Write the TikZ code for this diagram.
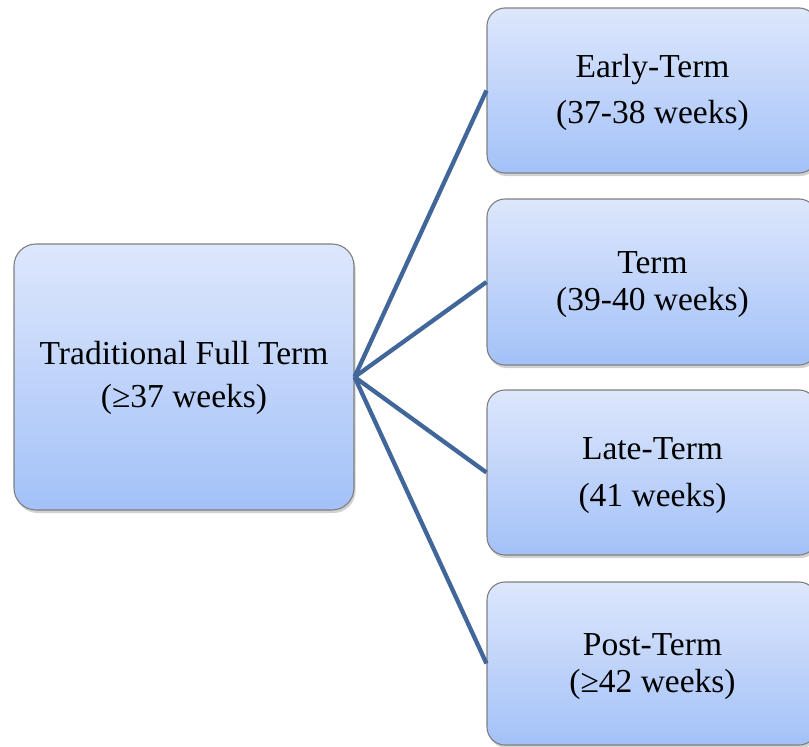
\documentclass[tikz,border=0pt]{standalone}
\usepackage{fontspec}
\setmainfont{Liberation Serif}
\usetikzlibrary{shadows}
\definecolor{gtop}{HTML}{DDE7FC}
\definecolor{gbot}{HTML}{A3C1F8}
\definecolor{bordc}{HTML}{7F7F7F}
\definecolor{linkc}{HTML}{41679A}
\tikzset{
  box/.style={draw=bordc, line width=1.1pt, top color=gtop, bottom color=gbot,
    rounded corners=#1, inner sep=0pt,
    drop shadow={shadow xshift=1.5pt, shadow yshift=-3pt, opacity=0.3, fill=black!60}},
  box/.default=18pt,
  lbl/.style={anchor=base, inner sep=0pt, font=\fontsize{33.5}{40}\selectfont, text=black},
  link/.style={draw=linkc, line width=4.3pt}
}
\begin{document}
\begin{tikzpicture}[x=1pt,y=-1pt]
\useasboundingbox (0,0) rectangle (809,747);
% boxes
\node[box=22pt, minimum width=340pt, minimum height=266pt] (L) at (184,377) {};
\node[box, minimum width=330pt, minimum height=165pt] (B1) at (652,90.5) {};
\node[box, minimum width=330pt, minimum height=166pt] (B2) at (652,282) {};
\node[box, minimum width=330pt, minimum height=165pt] (B3) at (652,472.5) {};
\node[box, minimum width=330pt, minimum height=163pt] (B4) at (652,663.5) {};
% connectors
\draw[link] (L.east) -- (B1.west);
\draw[link] (L.east) -- (B2.west);
\draw[link] (L.east) -- (B3.west);
\draw[link] (L.east) -- (B4.west);
% labels
\node[lbl] (l1) at (184,364) {Traditional Full Term};
\node[lbl] (l2) at (184,407) {(≥37 weeks)};
\node[lbl] (a1) at (652.5,77) {Early-Term};
\node[lbl] (a2) at (652.5,123) {(37-38 weeks)};
\node[lbl] (b1) at (652.5,273) {Term};
\node[lbl] (b2) at (652.5,310) {(39-40 weeks)};
\node[lbl] (c1) at (652.5,459) {Late-Term};
\node[lbl] (c2) at (652.5,506) {(41 weeks)};
\node[lbl] (d1) at (652.5,655) {Post-Term};
\node[lbl] (d2) at (652.5,692) {(≥42 weeks)};
\end{tikzpicture}
\end{document}
